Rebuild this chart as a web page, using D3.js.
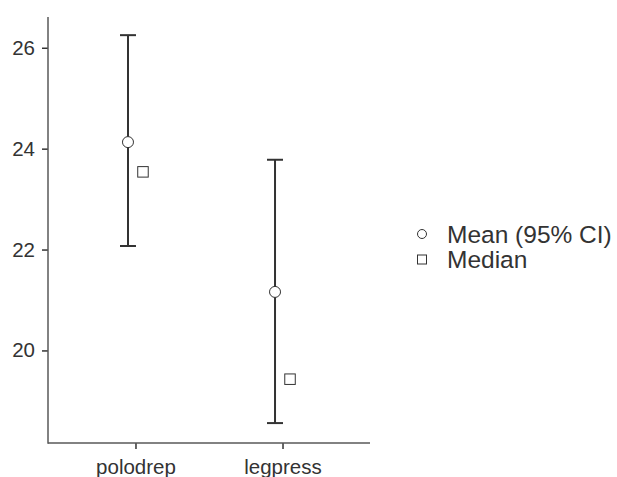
<!DOCTYPE html>
<html>
<head>
<meta charset="utf-8">
<script src="https://cdn.jsdelivr.net/npm/d3@7"></script>
<style>
  html, body { margin: 0; padding: 0; background: #fff; }
  svg { display: block; }
  text { font-family: "Liberation Sans", Arial, sans-serif; }
</style>
</head>
<body>
<svg id="chart" width="617" height="477"></svg>
<script>
const categories = ["polodrep", "legpress"];
const means = [24.13, 21.16];
const ciLower = [22.07, 18.56];
const ciUpper = [26.25, 23.78];
const medians = [23.54, 19.43];
const yTicks = [20, 22, 24, 26];
const legendLabels = ["Mean (95% CI)", "Median"];

const svg = d3.select("#chart");
const pLeft = 48, pRight = 370, pTop = 17, pBottom = 443;

const x = d3.scalePoint().domain(categories).range([pLeft, pRight]).padding(0.595);
const y = d3.scaleLinear().domain([18.165, 26.61]).range([pBottom, pTop]);

const axisColor = "#595959";
const textColor = "#333333";
const markColor = "#333333";

// Y axis
const yAxis = svg.append("g").attr("transform", `translate(${pLeft},0)`)
  .call(d3.axisLeft(y).tickValues(yTicks).tickSize(6).tickPadding(7).tickFormat(d3.format("d")));
yAxis.select(".domain").remove();
yAxis.selectAll(".tick line").attr("stroke", markColor).attr("stroke-width", 1.5);
yAxis.selectAll(".tick text").attr("fill", textColor).style("font-size", "20.5px");
svg.append("line").attr("x1", pLeft).attr("x2", pLeft).attr("y1", pTop).attr("y2", pBottom + 0.75)
  .attr("stroke", axisColor).attr("stroke-width", 1.5);

// X axis
const xAxis = svg.append("g").attr("transform", `translate(0,${pBottom})`)
  .call(d3.axisBottom(x).tickSize(6).tickPadding(10));
xAxis.select(".domain").remove();
xAxis.selectAll(".tick line").attr("stroke", markColor).attr("stroke-width", 1.5);
xAxis.selectAll(".tick text").attr("fill", textColor).style("font-size", "20.5px");
svg.append("line").attr("x1", pLeft).attr("x2", pRight).attr("y1", pBottom).attr("y2", pBottom)
  .attr("stroke", axisColor).attr("stroke-width", 1.5);

const dodge = 7.5;
const capHalf = 8;
const data = categories.map((c, i) => ({c, mean: means[i], lo: ciLower[i], hi: ciUpper[i], med: medians[i]}));

const g = svg.append("g");
// error bars
g.selectAll(".eb").data(data).join("line")
  .attr("x1", d => x(d.c) - dodge).attr("x2", d => x(d.c) - dodge)
  .attr("y1", d => y(d.hi)).attr("y2", d => y(d.lo))
  .attr("stroke", markColor).attr("stroke-width", 2);
g.selectAll(".capT").data(data).join("line")
  .attr("x1", d => x(d.c) - dodge - capHalf).attr("x2", d => x(d.c) - dodge + capHalf)
  .attr("y1", d => y(d.hi)).attr("y2", d => y(d.hi))
  .attr("stroke", markColor).attr("stroke-width", 2);
g.selectAll(".capB").data(data).join("line")
  .attr("x1", d => x(d.c) - dodge - capHalf).attr("x2", d => x(d.c) - dodge + capHalf)
  .attr("y1", d => y(d.lo)).attr("y2", d => y(d.lo))
  .attr("stroke", markColor).attr("stroke-width", 2);
// means
g.selectAll(".mean").data(data).join("circle")
  .attr("cx", d => x(d.c) - dodge).attr("cy", d => y(d.mean)).attr("r", 5.5)
  .attr("fill", "#fff").attr("stroke", markColor).attr("stroke-width", 1);
// medians
const sq = 10.5;
g.selectAll(".med").data(data).join("rect")
  .attr("x", d => x(d.c) + dodge - sq / 2).attr("y", d => y(d.med) - sq / 2)
  .attr("width", sq).attr("height", sq)
  .attr("fill", "#fff").attr("stroke", markColor).attr("stroke-width", 1);

// Legend
const lg = svg.append("g");
lg.append("circle").attr("cx", 422).attr("cy", 234).attr("r", 4.5)
  .attr("fill", "#fff").attr("stroke", markColor).attr("stroke-width", 1);
lg.append("rect").attr("x", 417.5).attr("y", 255).attr("width", 9).attr("height", 9)
  .attr("fill", "#fff").attr("stroke", markColor).attr("stroke-width", 1);
lg.selectAll("text.lab").data(legendLabels).join("text")
  .attr("x", 447).attr("y", (d, i) => 243 + i * 25)
  .attr("fill", textColor).style("font-size", "24.5px").text(d => d);
</script>
</body>
</html>
